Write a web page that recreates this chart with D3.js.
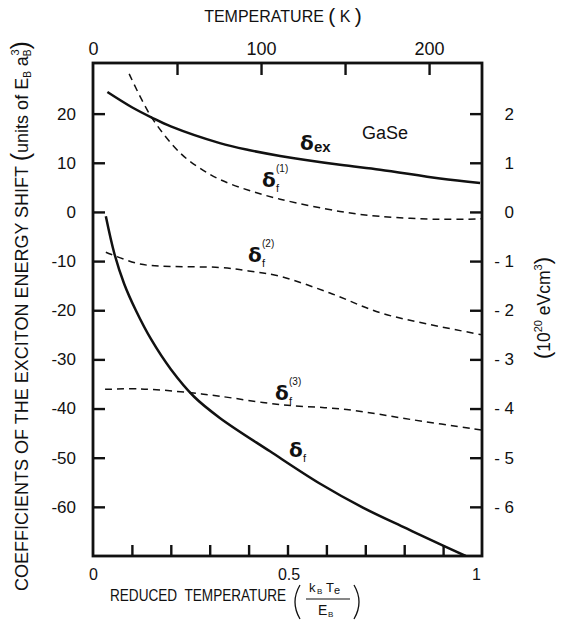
<!DOCTYPE html>
<html><head><meta charset="utf-8">
<script src="https://cdn.jsdelivr.net/npm/d3@7"></script>
<style>
body{margin:0;background:#fff}
svg text{font-family:"Liberation Sans",Arial,sans-serif;fill:#111}
</style>
</head><body>
<svg id="chart" width="566" height="634"></svg>
<script>
// ---- data (reduced temperature kB*Te/EB -> coefficient, units of EB*aB^3) ----
const exX   = [0.037,0.1,0.151,0.2,0.326,0.4,0.481,0.635,0.738,0.892,0.995];
const exY   = [24.4,21.3,19.2,17.4,14.0,12.6,11.4,9.6,8.6,6.8,5.9];
const f1X   = [0.093,0.151,0.224,0.275,0.326,0.4,0.481,0.635,0.738,0.892,1.0];
const f1Y   = [28.1,19.2,12.0,8.9,6.6,4.4,2.6,0.1,-0.9,-1.5,-1.4];
const f2X   = [0.033,0.121,0.206,0.326,0.4,0.481,0.609,0.738,0.866,1.0];
const f2Y   = [-8.2,-10.6,-11.1,-11.3,-12.0,-13.1,-16.5,-20.5,-22.9,-25.0];
const f3X   = [0.031,0.121,0.241,0.326,0.481,0.652,0.823,1.0];
const f3Y   = [-36.1,-36.0,-36.7,-37.5,-39.2,-40.2,-42.3,-44.4];
const fX    = [0.033,0.055,0.08,0.11,0.15,0.2,0.26,0.326,0.455,0.584,0.695,0.806,0.9,0.958];
const fY    = [-0.9,-8.5,-14.6,-20.0,-26.0,-32.0,-37.6,-41.9,-48.7,-55.3,-60.2,-64.4,-67.9,-70.0];

const leftTicks   = [20,10,0,-10,-20,-30,-40,-50,-60];
const rightTicks  = [2,1,0,-1,-2,-3,-4,-5,-6];
const bottomTicks = [0.1,0.2,0.3,0.4,0.5,0.6,0.7,0.8,0.9];
const bottomLabels= [0,0.5,1];
const topTicks    = [50,100,150,200];
const topLabels   = [0,100,200];
const EB_K = 231.5; // temperature (K) corresponding to reduced temperature 1

// ---- scales ----
const L=93, R=482, T=63, B=556;
const x  = d3.scaleLinear().domain([0,1]).range([L,R]);
const xT = d3.scaleLinear().domain([0,EB_K]).range([L,R]);
const y  = d3.scaleLinear().domain([-70,30.3]).range([B,T]);
const yR = d3.scaleLinear().domain([-7,3.03]).range([B,T]);

const svg = d3.select("#chart");

// ---- axes ----
function styleAxis(g){
  g.select(".domain").remove();
  g.selectAll(".tick line").attr("stroke","#111").attr("stroke-width",2.4);
  g.selectAll(".tick text").attr("fill","#111").style("font-size","17px")
   .style("font-family","'Liberation Sans',Arial,sans-serif");
}
const fmtL = d => d<0 ? "-"+Math.abs(d) : String(d);
const fmtR = d => d<0 ? "- "+Math.abs(d) : String(d);

svg.append("g").attr("transform",`translate(${L},0)`)
  .call(d3.axisLeft(y).tickValues(leftTicks).tickSize(-12).tickPadding(17).tickFormat(fmtL))
  .call(styleAxis);

svg.append("g").attr("transform",`translate(${R},0)`)
  .call(d3.axisRight(yR).tickValues(rightTicks).tickSize(-12).tickPadding(32).tickFormat(fmtR))
  .call(styleAxis)
  .call(g=>g.selectAll(".tick text").attr("text-anchor","end"));

svg.append("g").attr("transform",`translate(0,${B})`)
  .call(d3.axisBottom(x).tickValues(bottomTicks).tickSize(-11).tickFormat(""))
  .call(styleAxis);
svg.append("g").attr("transform",`translate(0,${B})`)
  .call(d3.axisBottom(x).tickValues(bottomLabels).tickSize(0).tickPadding(13)
        .tickFormat(d=> d===0.5 ? "0.5" : String(d)))
  .call(styleAxis)
  .call(g=>g.selectAll(".tick text").style("font-size","16px")
        .attr("dx", d=> d===1 ? -6 : (d===0.5 ? 1 : 0)));

svg.append("g").attr("transform",`translate(0,${T})`)
  .call(d3.axisTop(xT).tickValues(topTicks).tickSize(-12).tickFormat(""))
  .call(styleAxis);
svg.append("g").attr("transform",`translate(0,${T})`)
  .call(d3.axisTop(xT).tickValues(topLabels).tickSize(0).tickPadding(8).tickFormat(d3.format("d")))
  .call(styleAxis)
  .call(g=>g.selectAll(".tick text").style("font-size","18px"));

// frame
svg.append("rect").attr("x",L).attr("y",T).attr("width",R-L).attr("height",B-T)
  .attr("fill","none").attr("stroke","#111").attr("stroke-width",2.8);

// ---- curves ----
svg.append("clipPath").attr("id","clip").append("rect")
  .attr("x",L).attr("y",T).attr("width",R-L).attr("height",B-T);
const line = d3.line().x(d=>x(d[0])).y(d=>y(d[1])).curve(d3.curveCatmullRom.alpha(0.5));
const series = [
  {xs:exX, ys:exY, dash:null},
  {xs:f1X, ys:f1Y, dash:"7,5"},
  {xs:f2X, ys:f2Y, dash:"7,5"},
  {xs:f3X, ys:f3Y, dash:"7,5"},
  {xs:fX,  ys:fY,  dash:null}
];
series.forEach(s=>{
  svg.append("path").attr("clip-path","url(#clip)")
    .attr("d", line(s.xs.map((v,i)=>[v,s.ys[i]])))
    .attr("fill","none").attr("stroke","#111")
    .attr("stroke-width", s.dash ? 1.5 : 2.5)
    .attr("stroke-dasharray", s.dash);
});

// ---- curve labels ----
function deltaLabel(px, py, sub, sup, subBold){
  const g = svg.append("g");
  g.append("text").attr("x",px).attr("y",py)
    .style("font-family","'DejaVu Sans',sans-serif").style("font-weight","bold").style("font-size","20px")
    .text("δ");
  if(sup) g.append("text").attr("x",px+14).attr("y",py-15).style("font-size","10px").text(sup);
  g.append("text").attr("x",px+14).attr("y",py+ (subBold?2:5))
    .style("font-size", subBold?"15px":"11px").style("font-weight", subBold?"bold":"normal").text(sub);
}
deltaLabel(300,150,"ex",null,true);
deltaLabel(262,187,"f","(1)");
deltaLabel(248,262,"f","(2)");
deltaLabel(275,400,"f","(3)");
deltaLabel(289,457,"f",null);

svg.append("text").attr("x",362).attr("y",139).style("font-size","18px").text("GaSe");

// ---- axis titles ----
// top
const tt = svg.append("text").attr("x",283).attr("y",22).attr("text-anchor","middle").style("font-size","16px");
tt.append("tspan").text("TEMPERATURE ");
tt.append("tspan").style("font-size","21px").attr("dy",1).text("(");
tt.append("tspan").attr("dy",-1).text(" K ");
tt.append("tspan").style("font-size","21px").attr("dy",1).text(")");

// left (rotated)
const lt = svg.append("text").attr("transform","translate(28,316) rotate(-90)")
  .attr("text-anchor","middle").style("font-size","18px");
lt.append("tspan").text("COEFFICIENTS OF THE EXCITON ENERGY SHIFT ");
lt.append("tspan").style("font-size","25px").attr("dy",1).text("(");
lt.append("tspan").attr("dy",-1).text("units of E");
lt.append("tspan").style("font-size","10px").attr("dy",3).text("B");
lt.append("tspan").attr("dy",-3).text(" a");
lt.append("tspan").style("font-size","10px").attr("dy",3).text("B");
lt.append("tspan").style("font-size","11px").attr("dx",-6).attr("dy",-12).text("3");
lt.append("tspan").style("font-size","25px").attr("dy",10).text(")");

// right (rotated)
const rt = svg.append("text").attr("transform","translate(550,308) rotate(-90)")
  .attr("text-anchor","middle").style("font-size","17.5px");
rt.append("tspan").style("font-size","22px").text("(");
rt.append("tspan").text("10");
rt.append("tspan").style("font-size","11px").attr("dy",-8).text("20");
rt.append("tspan").attr("dy",8).text("  eVcm");
rt.append("tspan").style("font-size","11px").attr("dy",-8).text("3");
rt.append("tspan").style("font-size","22px").attr("dy",8).text(")");

// bottom
svg.append("text").attr("transform","translate(110,601) scale(0.85,1)").style("font-size","16px")
  .attr("xml:space","preserve").text("REDUCED  TEMPERATURE");
// tall parentheses drawn as paths
const paren = d3.path(); paren.moveTo(300,585); paren.quadraticCurveTo(290,602,300,619);
svg.append("path").attr("d",paren.toString()).attr("fill","none").attr("stroke","#111").attr("stroke-width",1.3);
const paren2 = d3.path(); paren2.moveTo(354,585); paren2.quadraticCurveTo(364,602,354,619);
svg.append("path").attr("d",paren2.toString()).attr("fill","none").attr("stroke","#111").attr("stroke-width",1.3);
// fraction kB Te / EB
function put(px,py,size,str){ svg.append("text").attr("x",px).attr("y",py).style("font-size",size).text(str); }
put(309,592,"13px","k");
put(317,594,"8px","B");
put(326,592,"13px","T");
put(334,594,"11px","e");
svg.append("line").attr("x1",306).attr("x2",350).attr("y1",599).attr("y2",599)
  .attr("stroke","#111").attr("stroke-width",1.2);
put(318,615,"14px","E");
put(328,617,"8px","B");
</script>
</body></html>
